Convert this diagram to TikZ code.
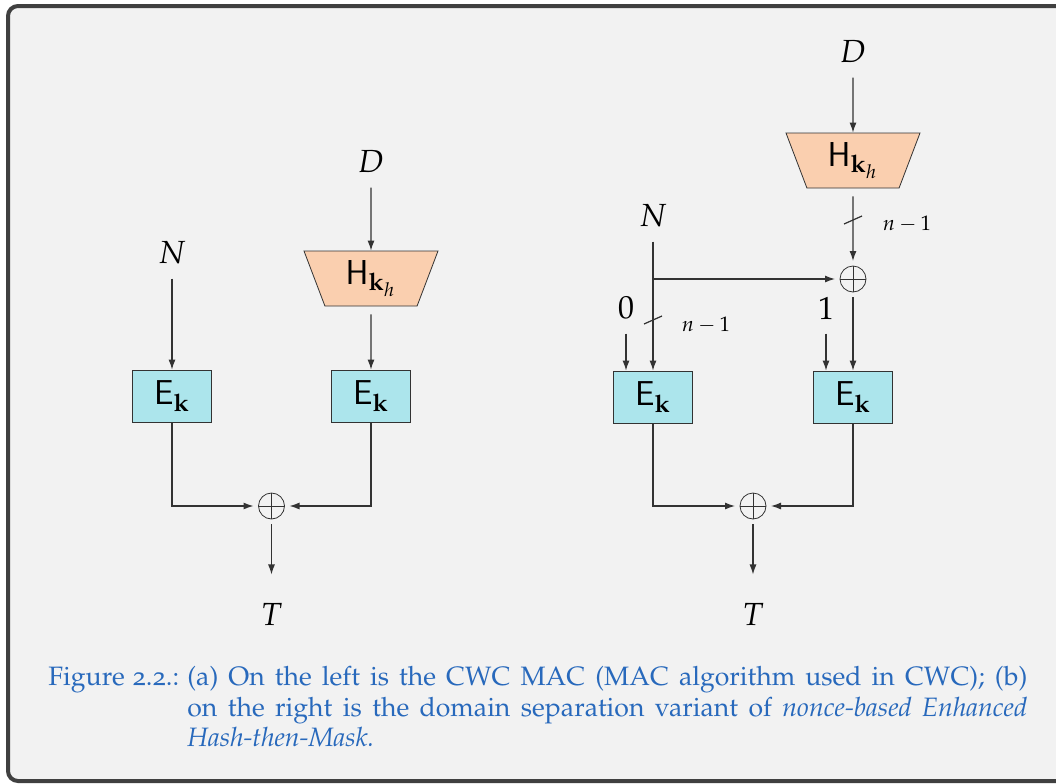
\documentclass[tikz,border=0pt]{standalone}
\usepackage[T1]{fontenc}
\usepackage[osf]{mathpazo}
\usetikzlibrary{arrows.meta,positioning,shapes.geometric}

\definecolor{framegray}{RGB}{64,64,64}
\definecolor{pagegray}{RGB}{242,242,242}
\definecolor{encblue}{RGB}{172,229,236}
\definecolor{hashpeach}{RGB}{250,207,175}
\definecolor{capblue}{RGB}{40,105,188}

\tikzset{
  enc/.style={draw=black!80, fill=encblue, minimum width=39.5pt, minimum height=26pt, inner sep=0pt},
  hash/.style={trapezium, shape border rotate=180, trapezium left angle=60, trapezium right angle=60,
    trapezium stretches body, draw=black!80, fill=hashpeach, minimum width=67pt, minimum height=27.5pt, inner sep=0pt},
  xor/.style={circle, draw=black!80, minimum size=13pt, inner sep=0pt, outer sep=2.5pt,
    path picture={\draw[black!80] (path picture bounding box.north) -- (path picture bounding box.south)
      (path picture bounding box.west) -- (path picture bounding box.east);}},
  sig/.style={inner sep=7pt},
  bits/.style={font=\fontsize{10.5}{12}\selectfont},
  wire/.style={draw=black!80, line width=0.6pt},
  arr/.style={wire, -{Latex[length=5pt,width=3.5pt]}},
}

\begin{document}
\begin{tikzpicture}[x=0.5pt,y=-0.5pt,font=\fontsize{16}{19}\selectfont]
  \path[use as bounding box] (0,0) rectangle (1056,783);
  \clip (0,0) rectangle (1056,783);
  \draw[framegray, line width=2pt, fill=pagegray, rounded corners=5pt] (8,6) rectangle (1080,781);

  % (a) CWC MAC
  \node[sig] (nl) at (172,253) {$N$};
  \node[sig] (dl) at (371,162) {$D$};
  \node[hash] (hl) at (371,278.5) {$\mathsf{H}_{\mathbf{k}_h}$};
  \node[enc] (el) at (172,396) {$\mathsf{E}_{\mathbf{k}}$};
  \node[enc] (er) at (371,396) {$\mathsf{E}_{\mathbf{k}}$};
  \node[xor] (xl) at (271.5,506) {};
  \node[sig] (tl) at (271.5,614) {$T$};

  \draw[arr] (nl) -- (el);
  \draw[arr] (dl) -- (hl);
  \draw[arr, shorten <=4pt] (hl) -- (er);
  \draw[arr] (el) |- (xl);
  \draw[arr] (er) |- (xl);
  \draw[arr, shorten >=7pt] (xl) -- (tl);

  % (b) domain separation variant
  \node[sig] (dr) at (853,52) {$D$};
  \node[hash] (hr) at (853,160.5) {$\mathsf{H}_{\mathbf{k}_h}$};
  \node[xor] (xa) at (853,279) {};
  \node[sig] (nr) at (653,216) {$N$};
  \coordinate (fork) at (653,279);
  \node[sig] (zero) at (626,308) {$0$};
  \node[sig] (one) at (826,308) {$1$};
  \node[enc] (ea) at (653,397) {$\mathsf{E}_{\mathbf{k}}$};
  \node[enc] (eb) at (853,397) {$\mathsf{E}_{\mathbf{k}}$};
  \node[xor] (xb) at (753,506) {};
  \node[sig] (tr) at (753,614) {$T$};
  \coordinate (cuth) at (853,220);
  \coordinate (cutn) at (653,320);
  \node[bits] (wh) at (907,224) {$n-1$};
  \node[bits] (wn) at (706,325) {$n-1$};

  \draw[arr] (dr) -- (hr);
  \draw[arr, shorten <=4pt] (hr) -- (xa);
  \draw[arr] (nr) -- (ea);
  \draw[arr] (fork) -- (xa);
  \draw[arr] (xa) -- (eb);
  \draw[arr] (zero) -- (zero |- ea.north);
  \draw[arr] (one) -- (one |- eb.north);
  \draw[arr] (ea) |- (xb);
  \draw[arr] (eb) |- (xb);
  \draw[arr, shorten >=7pt] (xb) -- (tr);
  \draw[wire] ([shift={(-9,4)}]cuth) -- ([shift={(9,-4)}]cuth);
  \draw[wire] ([shift={(-9,4)}]cutn) -- ([shift={(9,-4)}]cutn);

  % caption
  \node[anchor=north west, inner sep=0pt, text width=489.5pt, align=justify, text=capblue,
    font=\fontsize{13.3}{15.3}\selectfont] (cap) at (48,666)
    {\hangindent=69.5pt\hangafter=1\makebox[69.5pt][l]{Figure 2.2.:}(a) On the left is the CWC MAC
     (MAC algorithm used in CWC); (b)\linebreak on the right is the domain separation variant of
     \emph{nonce-based Enhanced}\linebreak \emph{Hash-then-Mask.}\par};
\end{tikzpicture}
\end{document}
